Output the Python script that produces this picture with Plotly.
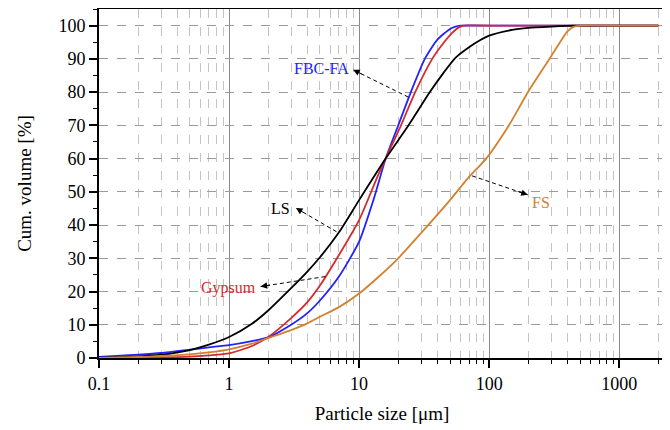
import math
import plotly.graph_objects as go

# ---- data ----
fbc_x = [0.1, 0.2, 0.3, 0.5, 0.7, 1, 1.5, 2, 3, 4, 5, 7, 10, 13, 16, 20, 25, 32, 40, 50, 55, 60, 100, 200, 500, 1000, 2000]
fbc_y = [0.3, 1.0, 1.5, 2.5, 3.2, 3.9, 5.1, 6.2, 10, 13.5, 17.3, 24.5, 35, 48, 60, 70, 80, 90, 95.8, 99, 99.7, 100, 100, 100, 100, 100, 100]

gyp_x = [0.1, 0.2, 0.3, 0.5, 0.7, 1, 1.5, 2, 3, 4, 5, 7, 10, 14, 16, 21, 27, 36.5, 45, 52, 58, 64, 100, 200, 500, 1000, 2000]
gyp_y = [0, 0.05, 0.15, 0.4, 0.8, 1.4, 3.6, 6.3, 12, 16.8, 21.8, 31, 41.5, 55, 60, 70, 80, 90, 95, 97.8, 99.4, 100, 100, 100, 100, 100, 100]

ls_x = [0.1, 0.2, 0.3, 0.5, 0.7, 1, 1.5, 2, 3, 4, 5, 7, 10, 16, 24, 35, 45, 55, 70, 85, 100, 150, 200, 300, 450, 1000, 2000]
ls_y = [0.1, 0.5, 1.0, 2.4, 4, 6.3, 10.3, 14.3, 21, 26, 30.3, 37.8, 47.5, 60, 70, 80, 86, 90.3, 93.5, 95.6, 97, 98.7, 99.3, 99.7, 100, 100, 100]

fs_x = [0.1, 0.2, 0.3, 0.5, 0.7, 1, 1.5, 2, 3, 4, 5, 7, 10, 14, 20, 30, 50, 70, 95, 142, 200, 300, 400, 450, 500, 1000, 2000]
fs_y = [0, 0.3, 0.6, 1.1, 1.7, 2.6, 4.3, 6, 8.4, 10.4, 12.4, 15.3, 19.4, 24.3, 30, 37.6, 47.5, 54.5, 60, 70, 80.2, 90.8, 98.3, 99.7, 100, 100, 100]

x_tickvals = [0.1, 1, 10, 100, 1000]
x_ticktext = ["0.1", "1", "10", "100", "1000"]
y_tickvals = [0, 10, 20, 30, 40, 50, 60, 70, 80, 90, 100]

# label annotations: text, colour, arrow start (on curve), arrow tip, label position
labels = ["FBC-FA", "LS", "Gypsum", "FS"]
label_colors = ["#2222ff", "#000000", "#d42a2a", "#d2812f"]
arrow_start_x = [23.9, 6.7, 5.5, 74]
arrow_start_y = [78.5, 38, 24.5, 54.8]
arrow_tip_x = [9.0, 3.27, 1.75, 198]
arrow_tip_y = [86.7, 45.1, 21.5, 49.1]
label_x = [8.7, 3.05, 1.68, 205]
label_y = [87, 45, 21.2, 46.8]
label_side = ["right", "right", "right", "left"]

series = [
    ("FBC-FA", fbc_x, fbc_y, "#2222ff"),
    ("Gypsum", gyp_x, gyp_y, "#d42a2a"),
    ("LS", ls_x, ls_y, "#000000"),
    ("FS", fs_x, fs_y, "#d2812f"),
]

FONT = "'Times New Roman', 'Liberation Serif', 'DejaVu Serif', serif"

fig = go.Figure()
for name, xs, ys, col in series:
    fig.add_trace(go.Scatter(x=xs, y=ys, mode="lines", name=name,
                             line=dict(color=col, width=1.8, shape="spline", smoothing=0.6),
                             showlegend=False, hoverinfo="skip"))

# dashed leader lines
for i in range(len(labels)):
    fig.add_trace(go.Scatter(x=[arrow_start_x[i], arrow_tip_x[i]], y=[arrow_start_y[i], arrow_tip_y[i]],
                             mode="lines", line=dict(color="black", width=1, dash="4px,3px"),
                             showlegend=False, hoverinfo="skip"))

# approximate pixel scales, used only for the direction of the arrowheads
PX_PER_DECADE = 129.9
PX_PER_UNIT = 3.32
for i in range(len(labels)):
    dx = (math.log10(arrow_start_x[i]) - math.log10(arrow_tip_x[i])) * PX_PER_DECADE
    dy = -(arrow_start_y[i] - arrow_tip_y[i]) * PX_PER_UNIT
    n = math.hypot(dx, dy)
    fig.add_annotation(x=math.log10(arrow_tip_x[i]), y=arrow_tip_y[i], xref="x", yref="y",
                       ax=dx / n * 11, ay=dy / n * 11, axref="pixel", ayref="pixel",
                       text="", showarrow=True, arrowhead=2, arrowsize=1.3, arrowwidth=1,
                       arrowcolor="black")
    fig.add_annotation(x=math.log10(label_x[i]), y=label_y[i], xref="x", yref="y",
                       text=labels[i], showarrow=False, xanchor=label_side[i], yanchor="middle",
                       font=dict(family=FONT, size=16, color=label_colors[i]))

# page body has an 8px margin, so the figure is sized to the remaining window
fig.update_layout(
    width=662, height=422,
    margin=dict(l=91, r=5, t=1, b=72, autoexpand=False),
    paper_bgcolor="white", plot_bgcolor="white",
    font=dict(family=FONT, size=18, color="black"),
)
fig.update_xaxes(
    type="log", range=[-1, math.log10(2250)],
    tickvals=x_tickvals, ticktext=x_ticktext,
    ticks="outside", ticklen=8, tickwidth=1.5, tickcolor="black",
    showline=True, linecolor="black", linewidth=2, mirror=True,
    showgrid=True, gridcolor="#8a8a8a", gridwidth=1,
    minor=dict(dtick="D1", ticks="outside", ticklen=4, tickwidth=1, tickcolor="black",
               showgrid=True, gridcolor="#c4c4c4", griddash="dash", gridwidth=1),
    zeroline=False, automargin=False,
    title=dict(text="Particle size [μm]", font=dict(family=FONT, size=19), standoff=14),
    tickfont=dict(family=FONT, size=18),
)
fig.update_yaxes(
    range=[0, 105], tickvals=y_tickvals,
    ticks="outside", ticklen=8, tickwidth=1.5, tickcolor="black",
    showline=True, linecolor="black", linewidth=2, mirror=True,
    showgrid=True, gridcolor="#9a9a9a", griddash="dash", gridwidth=1,
    minor=dict(dtick=5, ticks="outside", ticklen=4, tickwidth=1, tickcolor="black", showgrid=False),
    zeroline=False, automargin=False,
    title=dict(text="Cum. volume [%]", font=dict(family=FONT, size=19), standoff=22),
    tickfont=dict(family=FONT, size=18),
)

fig.write_html("out.html")
